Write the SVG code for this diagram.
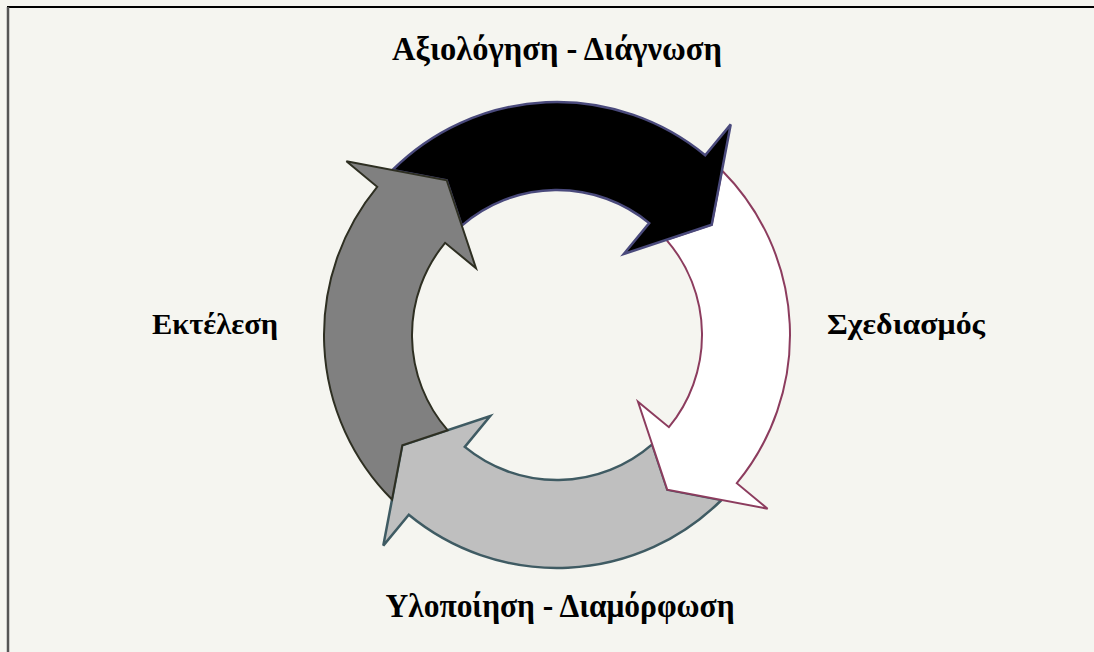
<svg xmlns="http://www.w3.org/2000/svg" xmlns:xlink="http://www.w3.org/1999/xlink" width="1094" height="652" viewBox="0 0 1094 652">
<style>
.lbl{font-family:"Liberation Serif","Times New Roman",serif;font-weight:bold;fill:#000;}
.side{font-size:30px;}
.cond{font-size:34px;}
.a-black{fill:#000;stroke:#4a4a7c;stroke-width:2.5;stroke-linejoin:miter;}
.a-white{fill:#fff;stroke:#8c3c5e;stroke-width:2;stroke-linejoin:miter;}
.a-light{fill:#bfbfbf;stroke:#3f5b63;stroke-width:2.5;stroke-linejoin:miter;}
.a-dark{fill:#808080;stroke:#2e2f22;stroke-width:2;stroke-linejoin:miter;}
</style>
<defs>
<path id="ringArrow" d="M392.5,170 A233,233 0 0 1 705.2,155.2 L730.7,124.4 L711.7,224.7 L623.8,254 L649.2,223.1 A145,145 0 0 0 461.8,225.6 L446.7,180.3 Z"/>
</defs>
<rect x="0" y="0" width="1094" height="652" fill="#f5f5f0"/>
<path d="M8,652 L8,7 L1094,7" fill="none" stroke="#000" stroke-width="2"/>
<line x1="8" y1="7" x2="8" y2="652" stroke="#555" stroke-width="2.5"/>
<g id="connectors">
<use xlink:href="#ringArrow" href="#ringArrow" class="a-light" transform="rotate(180 557 335)"/>
<use xlink:href="#ringArrow" href="#ringArrow" class="a-white" transform="rotate(90 557 335)"/>
<use xlink:href="#ringArrow" href="#ringArrow" class="a-black"/>
<use xlink:href="#ringArrow" href="#ringArrow" class="a-dark" transform="rotate(270 557 335)"/>
</g>
<g id="node-axiologisi">
<text class="lbl cond" x="557" y="60" text-anchor="middle" textLength="330" lengthAdjust="spacingAndGlyphs">Αξιολόγηση - Διάγνωση</text>
</g>
<g id="node-schediasmos">
<text class="lbl side" x="827" y="334" textLength="158" lengthAdjust="spacingAndGlyphs">Σχεδιασμός</text>
</g>
<g id="node-ylopoiisi">
<text class="lbl cond" x="560" y="617" text-anchor="middle" textLength="349" lengthAdjust="spacingAndGlyphs">Υλοποίηση - Διαμόρφωση</text>
</g>
<g id="node-ektelesi">
<text class="lbl side" x="152" y="334" textLength="126" lengthAdjust="spacingAndGlyphs">Εκτέλεση</text>
</g>
</svg>
